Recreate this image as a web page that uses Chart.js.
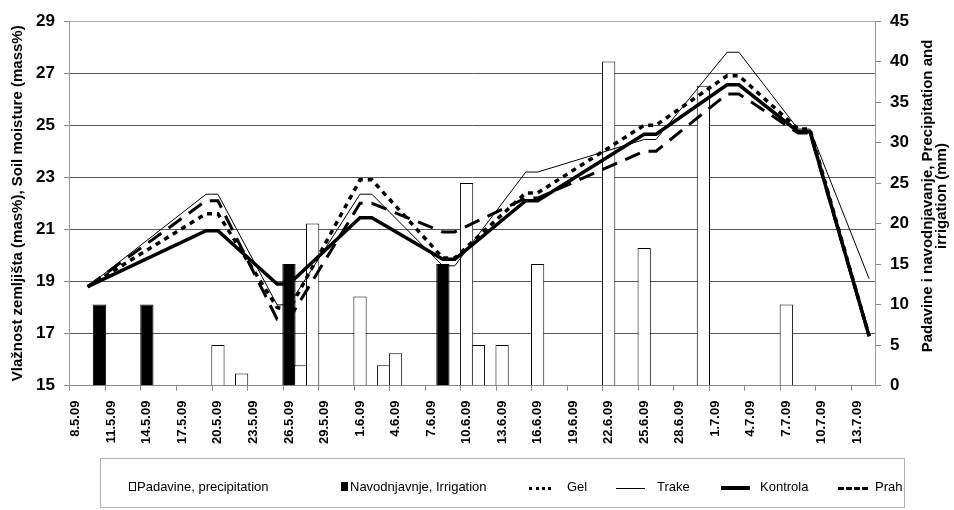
<!DOCTYPE html>
<html>
<head>
<meta charset="utf-8">
<title>Vlažnost zemljišta</title>
<script src="https://cdn.jsdelivr.net/npm/chart.js@4.4.0/dist/chart.umd.min.js"></script>
<style>
    body { margin: 0; background: #fff; }
    #wrap { position: relative; width: 954px; height: 510px; }
    #chart { position: absolute; left: 0; top: 0; }
    #legend {
        position: absolute; left: 100px; top: 458px; width: 805px; height: 50px;
        border: 1px solid #b0b0b0; box-sizing: border-box;
        font-family: "Liberation Sans", Arial, sans-serif; font-size: 13px; color: #000;
    }
    .lg { position: absolute; top: 21px; height: 14px; line-height: 14px; white-space: nowrap; }
    .box { position: absolute; top: 23px; width: 7px; height: 9px; box-sizing: border-box; border: 1px solid #000; }
    .ln { position: absolute; top: 28px; height: 0; }
</style>
</head>
<body>
<div id="wrap">
    <canvas id="chart" width="954" height="510"></canvas>
    <div id="legend">
        <span class="box" style="left:28px;background:#fff"></span>
        <span class="lg" style="left:36px">Padavine, precipitation</span>
        <span class="box" style="left:240px;background:#000"></span>
        <span class="lg" style="left:249px">Navodnjavnje, Irrigation</span>
        <span class="ln" style="left:428px;width:22px;border-top:3px dotted #000"></span>
        <span class="lg" style="left:466px">Gel</span>
        <span class="ln" style="left:515px;width:29px;border-top:1px solid #000;margin-top:1px"></span>
        <span class="lg" style="left:556px">Trake</span>
        <span class="ln" style="left:620px;width:29px;border-top:4px solid #000;margin-top:-1px"></span>
        <span class="lg" style="left:659px">Kontrola</span>
        <span class="ln" style="left:737px;width:30px;border-top:3px dashed #000"></span>
        <span class="lg" style="left:774px">Prah</span>
    </div>
</div>
<script>
// Svi dani na x osi (8.5.09 - 14.7.09)
const days = [
    '8.5.09','9.5.09','10.5.09','11.5.09','12.5.09','13.5.09','14.5.09','15.5.09','16.5.09','17.5.09',
    '18.5.09','19.5.09','20.5.09','21.5.09','22.5.09','23.5.09','24.5.09','25.5.09','26.5.09','27.5.09',
    '28.5.09','29.5.09','30.5.09','31.5.09','1.6.09','2.6.09','3.6.09','4.6.09','5.6.09','6.6.09',
    '7.6.09','8.6.09','9.6.09','10.6.09','11.6.09','12.6.09','13.6.09','14.6.09','15.6.09','16.6.09',
    '17.6.09','18.6.09','19.6.09','20.6.09','21.6.09','22.6.09','23.6.09','24.6.09','25.6.09','26.6.09',
    '27.6.09','28.6.09','29.6.09','30.6.09','1.7.09','2.7.09','3.7.09','4.7.09','5.7.09','6.7.09',
    '7.7.09','8.7.09','9.7.09','10.7.09','11.7.09','12.7.09','13.7.09','14.7.09'
];

// Oznake koje se prikazuju na x osi
const tickLabels = [
    '8.5.09','11.5.09','14.5.09','17.5.09','20.5.09','23.5.09','26.5.09','29.5.09','1.6.09','4.6.09',
    '7.6.09','10.6.09','13.6.09','16.6.09','19.6.09','22.6.09','25.6.09','28.6.09','1.7.09','4.7.09',
    '7.7.09','10.7.09','13.7.09'
];

// Padavine (mm)
const precipDates = ['20.5.09','22.5.09','27.5.09','28.5.09','1.6.09','3.6.09','4.6.09','10.6.09','11.6.09',
    '13.6.09','16.6.09','22.6.09','25.6.09','30.6.09','7.7.09'];
const precipValues = [5, 1.5, 2.5, 20, 11, 2.5, 4, 25, 5, 5, 15, 40, 17, 37, 10];

// Navodnjavanje (mm)
const irrigDates = ['10.5.09','14.5.09','26.5.09','8.6.09'];
const irrigValues = [10, 10, 15, 15];

// Vlaznost zemljista (mas%)
const moistDates = ['9.5.09','19.5.09','20.5.09','25.5.09','26.5.09','1.6.09','2.6.09','8.6.09','9.6.09',
    '15.6.09','16.6.09','25.6.09','26.6.09','2.7.09','3.7.09','8.7.09','9.7.09','14.7.09'];
const gel      = [18.8, 21.6, 21.6, 18.0, 17.9, 22.9, 22.9, 19.9, 19.9, 22.4, 22.4, 25.0, 25.0, 26.9, 26.9, 24.85, 24.85, 16.9];
const trake    = [18.8, 22.35, 22.35, 18.1, 18.1, 22.35, 22.35, 19.6, 19.6, 23.2, 23.2, 24.45, 24.45, 27.8, 27.8, 24.85, 24.85, 19.1];
const kontrola = [18.8, 20.95, 20.95, 18.9, 18.9, 21.45, 21.45, 19.85, 19.85, 22.1, 22.1, 24.65, 24.65, 26.55, 26.55, 24.75, 24.75, 16.9];
const prah     = [18.8, 22.1, 22.1, 17.55, 17.55, 22.0, 22.0, 20.9, 20.9, 22.2, 22.2, 24.0, 24.0, 26.2, 26.2, 24.7, 24.7, 16.9];

const yLeftTitle = 'Vlažnost zemljišta (mas%), Soil moisture (mass%)';
const yRightTitle = ['Padavine i navodnjavanje, Precipitation and', 'irrigation (mm)'];

const FONT = '"Liberation Sans", Arial, sans-serif';

document.addEventListener('DOMContentLoaded', function() {
    createChart();
});

// Rasporedi vrijednosti po danima
function spread(dates, values) {
    return days.map(d => {
        const k = dates.indexOf(d);
        return k >= 0 ? values[k] : null;
    });
}

// Naslov desne osi (cita se odozdo prema gore)
const rightTitlePlugin = {
    id: 'rightTitle',
    afterDraw(chart) {
        const ctx = chart.ctx;
        ctx.save();
        ctx.fillStyle = '#000';
        ctx.font = 'bold 15px ' + FONT;
        ctx.textAlign = 'center';
        ctx.textBaseline = 'middle';
        ctx.translate(928, 196);
        ctx.rotate(-Math.PI / 2);
        yRightTitle.forEach((t, i) => ctx.fillText(t, 0, i * 14));
        ctx.restore();
    }
};

function createChart() {
    Chart.defaults.font.family = FONT;
    Chart.defaults.color = '#000';

    const ctx = document.getElementById('chart').getContext('2d');
    new Chart(ctx, {
        type: 'bar',
        data: {
            labels: days,
            datasets: [
                { type: 'line', label: 'Gel', data: spread(moistDates, gel), yAxisID: 'y',
                  borderColor: '#000', borderWidth: 3.5, borderDash: [5, 5], pointRadius: 0, spanGaps: true, order: 0 },
                { type: 'line', label: 'Trake', data: spread(moistDates, trake), yAxisID: 'y',
                  borderColor: '#000', borderWidth: 1, pointRadius: 0, spanGaps: true, order: 0 },
                { type: 'line', label: 'Kontrola', data: spread(moistDates, kontrola), yAxisID: 'y',
                  borderColor: '#000', borderWidth: 3.5, pointRadius: 0, spanGaps: true, order: 0 },
                { type: 'line', label: 'Prah', data: spread(moistDates, prah), yAxisID: 'y',
                  borderColor: '#000', borderWidth: 3, borderDash: [16, 9], pointRadius: 0, spanGaps: true, order: 0 },
                { label: 'Padavine, precipitation', data: spread(precipDates, precipValues), yAxisID: 'y1',
                  backgroundColor: '#fff', borderColor: '#000', borderWidth: 1,
                  categoryPercentage: 1, barPercentage: 1.12, grouped: false, order: 1 },
                { label: 'Navodnjavnje, Irrigation', data: spread(irrigDates, irrigValues), yAxisID: 'y1',
                  backgroundColor: '#000', borderColor: '#000', borderWidth: 1,
                  categoryPercentage: 1, barPercentage: 1.12, grouped: false, order: 1 }
            ]
        },
        options: {
            responsive: false,
            animation: false,
            layout: { padding: { left: 4, right: 36, top: 21, bottom: 56 } },
            plugins: {
                legend: { display: false },
                tooltip: { enabled: false }
            },
            scales: {
                x: {
                    offset: true,
                    border: { color: '#888' },
                    grid: {
                        drawOnChartArea: false,
                        tickLength: 5,
                        tickColor: c => (c.index % 3 === 0 ? '#888' : 'rgba(0,0,0,0)')
                    },
                    ticks: {
                        autoSkip: false,
                        minRotation: 90,
                        maxRotation: 90,
                        padding: 10,
                        font: { size: 13, weight: 'bold' },
                        callback: function(v, i) {
                            const l = days[i];
                            return tickLabels.includes(l) ? l : '';
                        }
                    }
                },
                y: {
                    position: 'left',
                    min: 15,
                    max: 29,
                    border: { color: '#999' },
                    grid: {
                        color: c => (c.tick && c.tick.value === 29 ? '#aaa' : '#555'),
                        tickColor: '#888',
                        tickLength: 6
                    },
                    ticks: { stepSize: 2, padding: 9, font: { size: 17, weight: 'bold' } },
                    title: {
                        display: true,
                        text: yLeftTitle,
                        font: { size: 15, weight: 'bold' },
                        padding: { top: 5, bottom: 0 }
                    }
                },
                y1: {
                    position: 'right',
                    min: 0,
                    max: 45,
                    border: { color: '#999' },
                    grid: { drawOnChartArea: false, tickColor: '#888', tickLength: 6 },
                    ticks: { stepSize: 5, padding: 9, font: { size: 17, weight: 'bold' } }
                }
            }
        },
        plugins: [rightTitlePlugin]
    });
}
</script>
</body>
</html>
